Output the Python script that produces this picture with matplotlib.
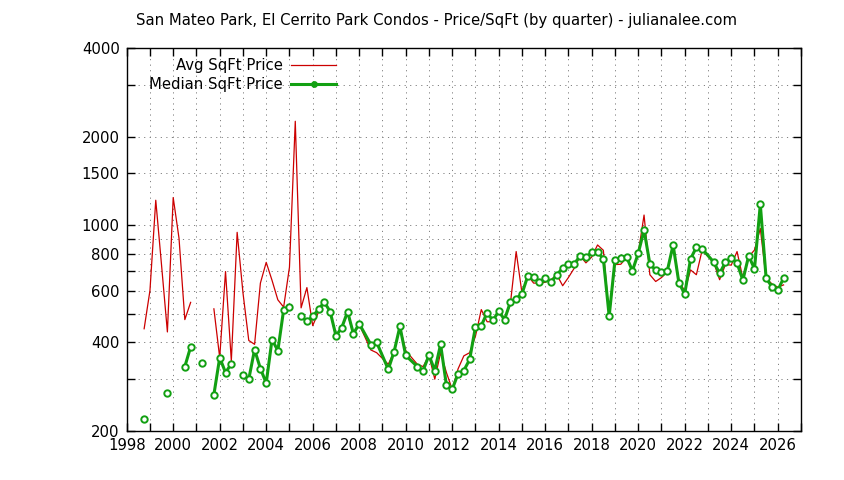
import numpy as np
import matplotlib
matplotlib.use("Agg")
import matplotlib.pyplot as plt
from matplotlib.ticker import FixedLocator, FixedFormatter, NullLocator

nan = np.nan

quarters = [
    1998.75, 1999.00, 1999.25, 1999.50, 1999.75,
    2000.00, 2000.25, 2000.50, 2000.75,
    2001.00, 2001.25, 2001.50, 2001.75,
    2002.00, 2002.25, 2002.50, 2002.75,
    2003.00, 2003.25, 2003.50, 2003.75,
    2004.00, 2004.25, 2004.50, 2004.75,
    2005.00, 2005.25, 2005.50, 2005.75,
    2006.00, 2006.25, 2006.50, 2006.75,
    2007.00, 2007.25, 2007.50, 2007.75,
    2008.00, 2008.50, 2008.75,
    2009.25, 2009.50, 2009.75,
    2010.00, 2010.50, 2010.75,
    2011.00, 2011.25, 2011.50, 2011.75,
    2012.00, 2012.25, 2012.50, 2012.75,
    2013.00, 2013.25, 2013.50, 2013.75,
    2014.00, 2014.25, 2014.50, 2014.75,
    2015.00, 2015.25, 2015.50, 2015.75,
    2016.00, 2016.25, 2016.50, 2016.75,
    2017.00, 2017.25, 2017.50, 2017.75,
    2018.00, 2018.25, 2018.50, 2018.75,
    2019.00, 2019.25, 2019.50, 2019.75,
    2020.00, 2020.25, 2020.50, 2020.75,
    2021.00, 2021.25, 2021.50, 2021.75,
    2022.00, 2022.25, 2022.50, 2022.75,
    2023.25, 2023.50, 2023.75,
    2024.00, 2024.25, 2024.50, 2024.75,
    2025.00, 2025.25, 2025.50, 2025.75,
    2026.00, 2026.25,
]

avg_price = [
    445, 600, 1216, 730, 434,
    1242, 903, 478, 547,
    nan, nan, nan, 520,
    355, 696, 346, 946,
    590, 406, 394, 636,
    748, 650, 558, 527,
    720, 2255, 524, 614,
    456, 507, 548, 505,
    418, 449, 500, 425,
    460, 377, 369,
    337, 372, 453,
    375, 337, 331,
    361, 300, 369, 316,
    277, 325, 360, 369,
    420, 517, 470, 470,
    520, 478, 540, 814,
    588, 675, 636, 636,
    640, 653, 679, 623,
    665, 715, 787, 745,
    780, 857, 822, 493,
    735, 737, 778, 700,
    803, 1083, 679, 644,
    664, 694, 857, 648,
    597, 705, 679, 824,
    745, 653, 735,
    732, 814, 661, 781,
    824, 975, 661, 632,
    616, 627,
]

median_price = [
    220, nan, nan, nan, 270,
    nan, nan, 331, 386,
    nan, 341, nan, 266,
    355, 316, 338, nan,
    311, 300, 378, 326,
    291, 409, 375, 516,
    526, nan, 492, 471,
    490, 518, 548, 509,
    421, 449, 509, 428,
    463, 393, 400,
    324, 372, 453,
    361, 331, 321,
    362, 321, 394, 286,
    277, 313, 321, 350,
    452, 456, 504, 475,
    510, 478, 548, 563,
    585, 673, 667, 641,
    661, 641, 679, 715,
    739, 739, 787, 778,
    809, 814, 768, 491,
    762, 775, 780, 700,
    803, 963, 739, 704,
    694, 700, 857, 636,
    585, 768, 842, 831,
    749, 686, 749,
    776, 743, 651, 787,
    711, 1177, 661, 618,
    601, 661,
]

title = "San Mateo Park, El Cerrito Park Condos - Price/SqFt (by quarter) - julianalee.com"
x_major = list(range(1998, 2028))
x_labels = [str(y) if y % 2 == 0 else "" for y in x_major]
y_ticks = [200, 300, 400, 500, 600, 700, 800, 900, 1000, 1500, 2000, 3000, 4000]
y_label_values = [200, 400, 600, 800, 1000, 1500, 2000, 4000]
y_labels = [str(v) if v in y_label_values else "" for v in y_ticks]

plt.rcParams['font.family'] = ['DejaVu Sans']
fs = 10.7

fig = plt.figure(figsize=(8.44, 4.80), dpi=100)
ax = fig.add_axes([126.7 / 844, 49 / 480, (801 - 126.7) / 844, (431 - 48) / 480])

ax.plot(quarters, avg_price, color='#cc0000', lw=0.9, label='Avg SqFt Price', zorder=3)
ax.plot(quarters, median_price, color='#12a012', lw=2.2, marker='o', ms=4.6,
        mfc='white', mec='#12a012', mew=1.4, label='Median SqFt Price', zorder=4)

ax.set_yscale('log')
ax.set_xlim(1998, 2027)
ax.set_ylim(200, 4000)

ax.xaxis.set_major_locator(FixedLocator(x_major))
ax.xaxis.set_major_formatter(FixedFormatter(x_labels))
ax.xaxis.set_minor_locator(NullLocator())
ax.yaxis.set_major_locator(FixedLocator(y_ticks))
ax.yaxis.set_major_formatter(FixedFormatter(y_labels))
ax.yaxis.set_minor_locator(NullLocator())

ax.tick_params(axis='both', which='major', direction='in', length=6, width=1,
               top=True, right=True, labelsize=fs, colors='black', pad=5)
ax.grid(True, which='major', color='#808080', lw=0.7, linestyle=(0, (1.2, 4.5)))
for s in ax.spines.values():
    s.set_linewidth(1.0)
    s.set_color('black')

leg = ax.legend(loc='upper right', bbox_to_anchor=((336 - 126.7) / 674.3, (431 - 58) / 383),
                frameon=False, markerfirst=False, fontsize=fs, handlelength=3.0,
                handletextpad=0.6, labelspacing=0.3, borderpad=0, borderaxespad=0)
for h in leg.legend_handles:
    if h.get_marker() == 'o':
        h.set_markersize(3.5)
        h.set_markerfacecolor('#12a012')

fig.text(436 / 844, 1 - 20 / 480, title, ha='center', va='center', fontsize=fs)

fig.savefig('out.png', dpi=100, facecolor='white')
